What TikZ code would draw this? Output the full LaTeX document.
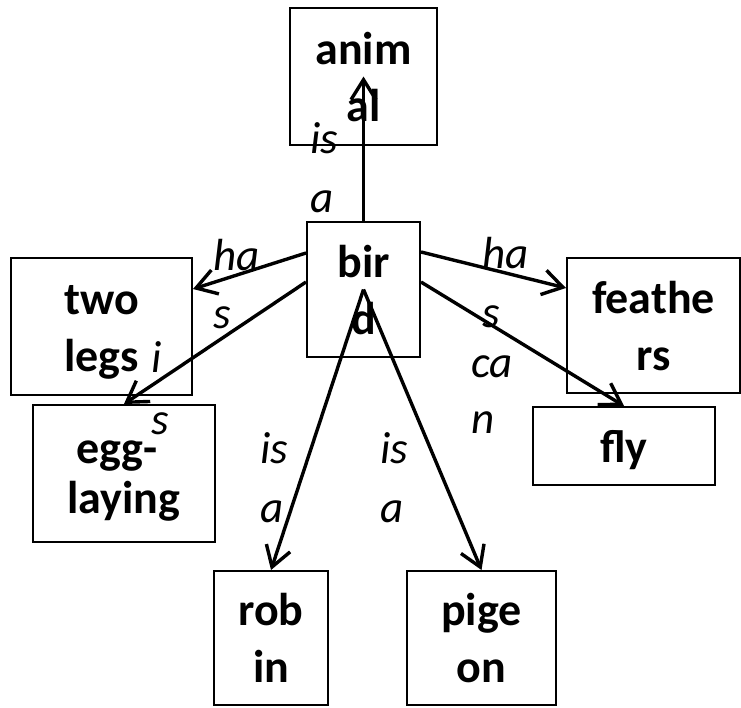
\documentclass[tikz,border=0pt]{standalone}
\usepackage{fontspec}
\setmainfont{Carlito}
\usetikzlibrary{arrows.meta}
\newcommand\bxs{\rule[-12pt]{0pt}{56pt}}
\newcommand\exs{\rule[-10pt]{0pt}{49pt}}
\newcommand\lbs{\rule[-12pt]{0pt}{56pt}}
\begin{document}
\begin{tikzpicture}[x=1pt,y=-1pt,
  box/.style={draw, line width=2pt, inner sep=0pt, align=center,
    font=\fontsize{46}{57}\selectfont\bfseries},
  lbl/.style={inner sep=0pt, anchor=north west, align=left,
    font=\fontsize{45}{#1}\selectfont\itshape},
  arr/.style={line width=3.4pt, -{Straight Barb[length=20pt,width=25pt]}}]
\useasboundingbox (0,0) rectangle (741,707);

% boxes
\node[box, minimum width=147pt, minimum height=137pt] (animal) at (363.5,76.5) {\bxs anim\\\bxs al};
\node[box, minimum width=113pt, minimum height=135pt] (bird) at (363.5,289.5) {\bxs bir\\\bxs d};
\node[box, minimum width=181pt, minimum height=137pt] (twolegs) at (101.5,326.5) {\bxs two\\\bxs legs};
\node[box, minimum width=182pt, minimum height=137pt, font=\fontsize{46}{50}\selectfont\bfseries] (egg) at (124,473.5) {\exs egg-\kern14pt\\\exs laying};
\node[box, minimum width=173pt, minimum height=135pt] (feathers) at (653.5,325.5) {\bxs feathe\\\bxs rs};
\node[box, minimum width=182pt, minimum height=78pt] (fly) at (624,446) {\bxs fly};
\node[box, minimum width=114pt, minimum height=134pt] (robin) at (271,638) {\bxs rob\\\bxs in};
\node[box, minimum width=149pt, minimum height=134pt] (pigeon) at (481.5,638) {\bxs pige\\\bxs on};

% connectors
\draw[arr] (bird.north) -- (animal.center);
\draw[arr] ([yshift=-32pt]bird.north west) -- ([yshift=-32pt]twolegs.north east);
\draw[arr] ([yshift=-61pt]bird.north west) -- (egg.north);
\draw[arr] ([yshift=-31pt]bird.north east) -- ([yshift=-31pt]feathers.north west);
\draw[arr] ([yshift=-61pt]bird.north east) -- (fly.north);
\draw[arr] (bird.center) -- (robin.north);
\draw[arr] (bird.center) -- (pigeon.north);

% labels
\node[lbl=59] (l1) at (310,109) {\lbs is\\\lbs a};
\node[lbl=58] (l2) at (213,226) {\lbs ha\\\lbs s};
\node[lbl=62] (l3) at (151,328) {\lbs i\\\lbs s};
\node[lbl=59] (l4) at (482,224) {\lbs ha\\\lbs s};
\node[lbl=56] (l5) at (471,333) {\lbs ca\\\lbs n};
\node[lbl=59] (l6) at (260,419) {\lbs is\\\lbs a};
\node[lbl=59] (l7) at (380,419) {\lbs is\\\lbs a};
\end{tikzpicture}
\end{document}
